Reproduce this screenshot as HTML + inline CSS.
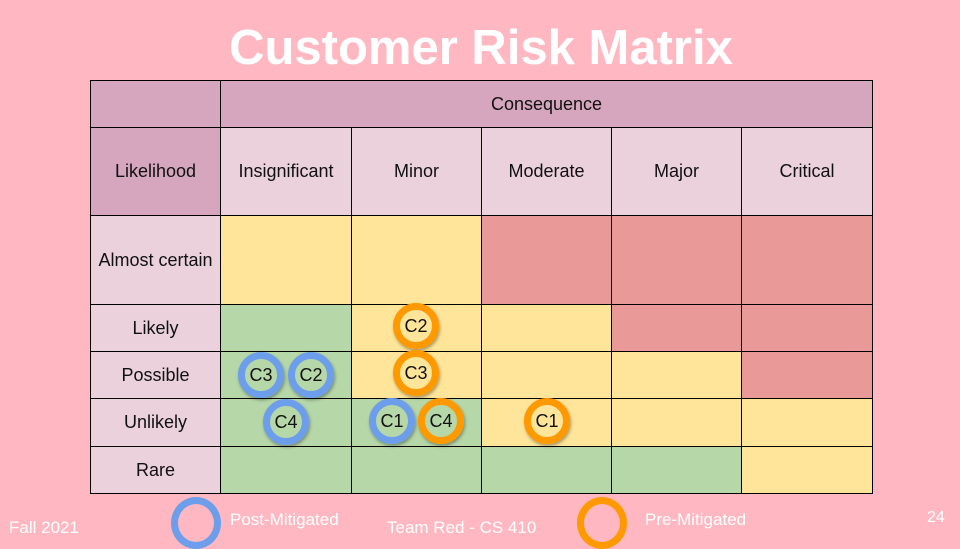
<!DOCTYPE html>
<html><head><meta charset="utf-8"><style>
body{margin:0;width:960px;height:540px;background:#ffb8c1;position:relative;overflow:hidden;font-family:"Liberation Sans",sans-serif}
.c{position:absolute;box-sizing:border-box;border:1px solid #000;display:flex;align-items:center;justify-content:center;font-size:18px;color:#111;text-align:center}
.k{position:absolute;width:46px;height:46px;box-sizing:border-box;border-radius:50%;border:7px solid;display:flex;align-items:center;justify-content:center;font-size:18px;color:#111;box-shadow:1px 2px 3px rgba(0,0,0,.35)}
.b{border-color:#6d9eeb}.o{border-color:#ff9900}
.t{position:absolute;color:#fff;font-size:17px}
</style></head><body>
<div class="t" style="left:0;width:962px;top:20px;text-align:center;font-size:49px;font-weight:bold">Customer Risk Matrix</div>
<div id="grid"></div>
<div class="t" style="left:9px;top:518px">Fall 2021</div>
<div class="t" style="left:387px;top:518px">Team Red - CS 410</div>
<div class="t" style="left:927px;top:509px;font-size:16px">24</div>
<div style="position:absolute;left:171px;top:497px;width:50px;height:52px;box-sizing:border-box;border-radius:50%;border:7px solid #6d9eeb"></div>
<div class="t" style="left:230px;top:510px">Post-Mitigated</div>
<div style="position:absolute;left:577px;top:497px;width:50px;height:52px;box-sizing:border-box;border-radius:50%;border:7px solid #ff9900"></div>
<div class="t" style="left:645px;top:510px">Pre-Mitigated</div>
<script>
const xs=[90,220,351,481,611,741,872];
const ys=[80,127,215,304,351,398,446,493];
const cols=["Insignificant","Minor","Moderate","Major","Critical"];
const rows=["Almost certain","Likely","Possible","Unlikely","Rare"];
const levels=["YYRRR","GYYRR","GYYYR","GGYYY","GGGGY"];
const colMap={G:"#b6d7a8",Y:"#ffe599",R:"#ea9999"};
const g=document.getElementById('grid');
function cell(x0,x1,y0,y1,bg,txt,name){const d=document.createElement('div');d.className='c';
d.style.cssText=`left:${x0}px;top:${y0}px;width:${x1-x0+1}px;height:${y1-y0+1}px;background:${bg}`;d.textContent=txt||'';


g.appendChild(d);}
cell(xs[0],xs[1],ys[0],ys[1],"#d5a6bd","","corner-cell");
cell(xs[1],xs[6],ys[0],ys[1],"#d5a6bd","Consequence","consequence-header");
cell(xs[0],xs[1],ys[1],ys[2],"#d5a6bd","Likelihood","likelihood-header");
cols.forEach((c,i)=>cell(xs[i+1],xs[i+2],ys[1],ys[2],"#ead1dc",c,"col-"+c.toLowerCase()));
rows.forEach((r,j)=>{cell(xs[0],xs[1],ys[j+2],ys[j+3],"#ead1dc",r,"row-"+r.toLowerCase().replace(' ','-'));
 for(let i=0;i<5;i++)cell(xs[i+1],xs[i+2],ys[j+2],ys[j+3],colMap[levels[j][i]],"","risk-cell");});
const marks=[["C2","o",416,326],["C3","o",416,373],["C1","o",547,421],["C4","o",441,421],["C3","b",261,375],["C2","b",311,375],["C4","b",286,422],["C1","b",392,421]];
marks.forEach(m=>{const d=document.createElement('div');d.className='k '+m[1];d.style.left=(m[2]-23)+'px';d.style.top=(m[3]-23)+'px';d.textContent=m[0];


g.appendChild(d);});
</script>
</body></html>
